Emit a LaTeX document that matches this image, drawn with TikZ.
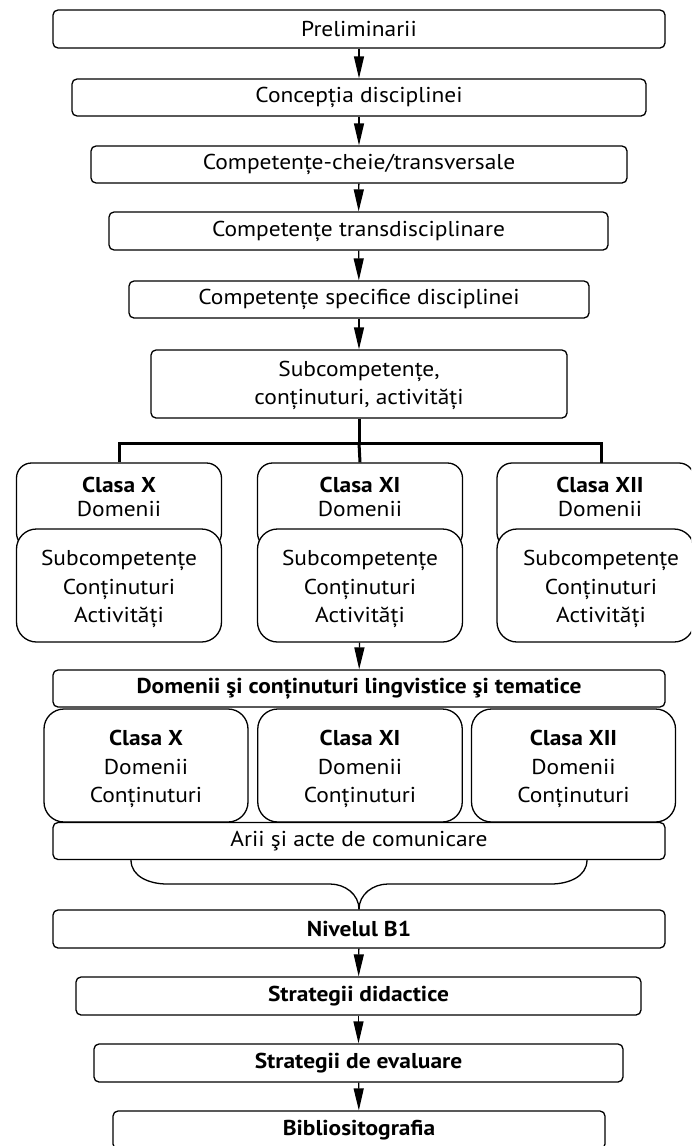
\documentclass[tikz,border=0pt]{standalone}
\usepackage{fontspec}
\setmainfont[FakeStretch=1.09]{PT Sans}
\usetikzlibrary{arrows.meta}
\begin{document}
\begin{tikzpicture}[x=1pt,y=-1pt,
  box/.style={draw,line width=1.3pt,rounded corners=5pt,fill=white,inner sep=0pt,
    font=\fontsize{21.5}{28}\selectfont,align=center},
  bbox/.style={box,font=\fontsize{21.5}{28}\selectfont\bfseries},
  cbox/.style={draw,line width=1.3pt,rounded corners=18pt,fill=white,inner sep=0pt},
  txt/.style={inner sep=0pt,font=\fontsize{21.5}{28.5}\selectfont,align=center},
  arr/.style={line width=1.3pt,-{Triangle[length=22pt,width=10pt]}},
  tree/.style={line width=3pt},
  brace/.style={line width=1.3pt}]
\useasboundingbox (0,0) rectangle (691,1146);
\clip (0,0) rectangle (691,1146);

% top chain
\node[box,minimum width=612pt,minimum height=38pt] (n1) at (359,29) {Preliminarii};
\node[box,minimum width=574pt,minimum height=37pt] (n2) at (359,97.5) {Concepția disciplinei};
\node[box,minimum width=536pt,minimum height=37pt] (n3) at (359,164.5) {Competențe-cheie/transversale};
\node[box,minimum width=499pt,minimum height=38pt] (n4) at (358.5,231) {Competențe transdisciplinare};
\node[box,minimum width=460pt,minimum height=37pt] (n5) at (359,299.5) {Competențe specifice disciplinei};
\node[box,minimum width=416pt,minimum height=68pt] (n6) at (359,384) {};
\node[txt,font=\fontsize{21.5}{28}\selectfont] (n6t) at (359,385) {Subcompetențe,\\conținuturi, activități};

\draw[arr] (n1) -- (n2);
\draw[arr] (n2) -- (n3);
\draw[arr] (n3) -- (n4);
\draw[arr] (n4) -- (n5);
\draw[arr] (n5) -- (n6);

% class boxes (upper)
\node[cbox,rounded corners=15pt,minimum width=205pt,minimum height=85pt] (ux) at (119,505.5) {};
\node[cbox,rounded corners=15pt,minimum width=205pt,minimum height=85pt] (uxi) at (360,505.5) {};
\node[cbox,rounded corners=15pt,minimum width=197pt,minimum height=85pt] (uxii) at (595.5,505.5) {};
\node[txt,font=\fontsize{21.5}{24}\selectfont] (uxt) at (119,497) {\textbf{Clasa X}\\Domenii};
\node[txt,font=\fontsize{21.5}{24}\selectfont] (uxit) at (360,497) {\textbf{Clasa XI}\\Domenii};
\node[txt,font=\fontsize{21.5}{24}\selectfont] (uxiit) at (600,497) {\textbf{Clasa XII}\\Domenii};
\node[cbox,rounded corners=20pt,minimum width=205pt,minimum height=113pt] (lx) at (119,585.5) {};
\node[cbox,rounded corners=20pt,minimum width=205pt,minimum height=113pt] (lxi) at (360,585.5) {};
\node[cbox,rounded corners=20pt,minimum width=197pt,minimum height=113pt] (lxii) at (595.5,585.5) {};
\node[txt] (lxt) at (119,589) {Subcompetențe\\Conținuturi\\Activități};
\node[txt] (lxit) at (360,589) {Subcompetențe\\Conținuturi\\Activități};
\node[txt] (lxiit) at (601,589) {Subcompetențe\\Conținuturi\\Activități};

% tree connector
\coordinate (tj) at (359,443);
\coordinate (tr) at (601,463);
\draw[tree] (n6.south) -- (tj);
\draw[tree] (ux.north) |- (tj) -| (tr);
\draw[tree] (tj) -- (uxi.north);

% middle section
\node[bbox,minimum width=612pt,minimum height=37pt] (dom) at (359,688.5) {Domenii şi conținuturi lingvistice şi tematice};
\draw[arr] (lxi) -- (dom);

\node[cbox,rounded corners=20pt,minimum width=204pt,minimum height=113pt] (mx) at (146,765.5) {};
\node[cbox,rounded corners=20pt,minimum width=204.5pt,minimum height=113pt] (mxi) at (360,765.5) {};
\node[cbox,rounded corners=20pt,minimum width=204pt,minimum height=113pt] (mxii) at (573.5,765.5) {};
\node[txt] (mxt) at (146,769) {\textbf{Clasa X}\\Domenii\\Conținuturi};
\node[txt] (mxit) at (360,769) {\textbf{Clasa XI}\\Domenii\\Conținuturi};
\node[txt] (mxiit) at (573.5,769) {\textbf{Clasa XII}\\Domenii\\Conținuturi};

\node[box,minimum width=612pt,minimum height=37pt] (arii) at (359,841) {Arii şi acte de comunicare};

% bottom chain
\node[bbox,minimum width=612pt,minimum height=38pt] (b1) at (359,929) {Nivelul B1};
\node[bbox,minimum width=565pt,minimum height=38pt] (b2) at (358.5,996) {Strategii didactice};
\node[bbox,minimum width=529pt,minimum height=38pt] (b3) at (358.5,1063) {Strategii de evaluare};
\node[bbox,minimum width=492pt,minimum height=38pt] (b4) at (359,1130) {Bibliositografia};

% brace
\coordinate (bl) at (131,860);
\coordinate (br) at (587,860);
\draw[brace] (bl) to[out=-90,in=180] (167,884) -- (330,884) to[out=0,in=90] (b1.north);
\draw[brace] (br) to[out=-90,in=0] (551,884) -- (388,884) to[out=180,in=90] (b1.north);

\draw[arr] (b1) -- (b2);
\draw[arr] (b2) -- (b3);
\draw[arr] (b3) -- (b4);
\end{tikzpicture}
\end{document}
